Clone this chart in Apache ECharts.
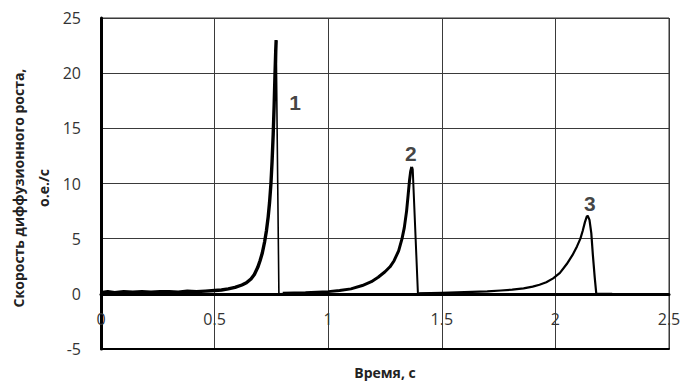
<!DOCTYPE html>
<html>
<head>
<meta charset="utf-8">
<script src="https://cdn.jsdelivr.net/npm/echarts@6/dist/echarts.min.js"></script>
<style>
  html, body { margin: 0; padding: 0; background: #fff; }
  #chart { width: 685px; height: 382px; }
</style>
</head>
<body>
<div id="chart"></div>
<script>
// кривая 1: подъём и спад
const x1 = [0, 0.03, 0.06, 0.1, 0.14, 0.18, 0.22, 0.26, 0.3, 0.34, 0.38, 0.42, 0.46, 0.5, 0.53, 0.56, 0.59, 0.62, 0.64, 0.66, 0.675, 0.69, 0.70, 0.71, 0.72, 0.728, 0.736, 0.742, 0.748, 0.753, 0.758, 0.762, 0.766, 0.769, 0.771];
const y1 = [0.1, 0.2, 0.1, 0.2, 0.15, 0.2, 0.15, 0.2, 0.2, 0.15, 0.25, 0.2, 0.25, 0.3, 0.35, 0.45, 0.58, 0.8, 1.0, 1.35, 1.75, 2.4, 3.0, 3.7, 4.7, 5.7, 7.0, 8.3, 10, 12, 14.5, 17, 20, 22, 23];
const x1Drop = [0.771, 0.783, 0.85, 1.0];
const y1Drop = [23, 0, 0.05, 0.05];
// кривая 2
const x2 = [0.8, 0.9, 1.0, 1.05, 1.1, 1.15, 1.19, 1.22, 1.25, 1.272, 1.29, 1.31, 1.325, 1.335, 1.345, 1.352, 1.358, 1.363, 1.368];
const y2 = [0.05, 0.1, 0.2, 0.3, 0.45, 0.75, 1.1, 1.5, 2.0, 2.45, 3.0, 3.9, 5, 6.0, 7.5, 9, 10.3, 11.1, 11.5];
const x2Drop = [1.368, 1.372, 1.395, 1.5, 1.6];
const y2Drop = [11.5, 11.3, 0, 0.05, 0.05];
// кривая 3
const x3 = [1.4, 1.5, 1.6, 1.7, 1.76, 1.81, 1.86, 1.9, 1.93, 1.96, 1.99, 2.02, 2.05, 2.075, 2.095, 2.11, 2.12, 2.13, 2.138, 2.143, 2.15, 2.158, 2.165, 2.173, 2.18, 2.25];
const y3 = [0.05, 0.1, 0.15, 0.22, 0.3, 0.38, 0.5, 0.65, 0.82, 1.05, 1.4, 1.9, 2.7, 3.5, 4.3, 5.0, 5.7, 6.5, 7.0, 7.05, 6.7, 5.5, 3.5, 1.5, 0, 0];
// подписи кривых
const labelNames = ['1', '2', '3'];
const labelX = [0.854, 1.364, 2.152];
const labelY = [17.3, 12.7, 8.2];

const xTicks = [0, 0.5, 1, 1.5, 2, 2.5];
const yTicks = [-5, 0, 5, 10, 15, 20, 25];

const gridTop = 18, gridBottom = 33, chartH = 382;

function pairs(xs, ys) {
  return xs.map((x, i) => [x, ys[i]]);
}

// ось X проходит через ноль, подписи под ней
const yMin = yTicks[0], yMax = yTicks[yTicks.length - 1];
const plotH = chartH - gridTop - gridBottom;
const zeroOffset = -(0 - yMin) / (yMax - yMin) * plotH;

const myChart = echarts.init(document.getElementById('chart'), null, { renderer: 'svg' });
myChart.setOption({
  animation: false,
  grid: {
    left: 101, right: 16, top: gridTop, bottom: gridBottom,
    show: true,
    borderColor: '#333',
    borderWidth: 1
  },
  xAxis: [
    {
      type: 'value',
      min: xTicks[0],
      max: xTicks[xTicks.length - 1],
      interval: 0.5,
      offset: zeroOffset,
      axisLine: { onZero: false, lineStyle: { color: '#000', width: 3 } },
      axisTick: { show: false },
      axisLabel: {
        color: '#333', fontSize: 16, fontFamily: 'Open Sans', margin: 17,
        formatter: (v) => String(v)
      },
      splitLine: { show: true, lineStyle: { color: '#3a3a3a', width: 1 } }
    },
    {
      // нижняя рамка
      type: 'value',
      position: 'bottom',
      min: xTicks[0],
      max: xTicks[xTicks.length - 1],
      interval: 0.5,
      axisLine: { onZero: false, lineStyle: { color: '#000', width: 2 } },
      axisTick: { show: false },
      axisLabel: { show: false },
      splitLine: { show: false }
    }
  ],
  yAxis: {
    type: 'value',
    min: yMin,
    max: yMax,
    interval: 5,
    axisLine: { show: true, lineStyle: { color: '#000', width: 3 } },
    axisTick: { show: false },
    axisLabel: { color: '#333', fontSize: 16, fontFamily: 'Open Sans', margin: 20 },
    splitLine: { show: true, lineStyle: { color: '#3a3a3a', width: 1 } }
  },
  graphic: [
    {
      type: 'text',
      x: 31, y: 188,
      rotation: Math.PI / 2,
      style: {
        text: 'Скорость диффузионного роста,\nо.е./с',
        font: 'bold 14px "Open Sans"',
        fill: '#222',
        align: 'center',
        verticalAlign: 'middle',
        lineHeight: 25
      }
    },
    {
      type: 'text',
      x: 385, y: 372,
      style: {
        text: 'Время, с',
        font: 'bold 14px "Open Sans"',
        fill: '#222',
        align: 'center',
        verticalAlign: 'middle'
      }
    }
  ],
  series: [
    {
      type: 'line', symbol: 'none',
      lineStyle: { color: '#000', width: 3.4, join: 'round' },
      data: pairs(x1, y1),
      z: 3
    },
    {
      type: 'line', symbol: 'none',
      lineStyle: { color: '#000', width: 1.6 },
      data: pairs(x1Drop, y1Drop),
      z: 3
    },
    {
      type: 'line', symbol: 'none',
      lineStyle: { color: '#000', width: 3, join: 'round' },
      data: pairs(x2, y2),
      z: 3
    },
    {
      type: 'line', symbol: 'none',
      lineStyle: { color: '#000', width: 2, join: 'round' },
      data: pairs(x2Drop, y2Drop),
      z: 3
    },
    {
      type: 'line', symbol: 'none',
      lineStyle: { color: '#000', width: 2.2, join: 'round' },
      data: pairs(x3, y3),
      z: 3
    },
    {
      type: 'scatter',
      symbolSize: 0,
      silent: true,
      data: labelNames.map((n, i) => ({ name: n, value: [labelX[i], labelY[i]] })),
      label: {
        show: true, position: 'inside',
        formatter: (p) => p.name,
        fontSize: 21, fontWeight: 'bold', fontFamily: 'Liberation Sans',
        color: '#111'
      }
    }
  ]
});
</script>
</body>
</html>
